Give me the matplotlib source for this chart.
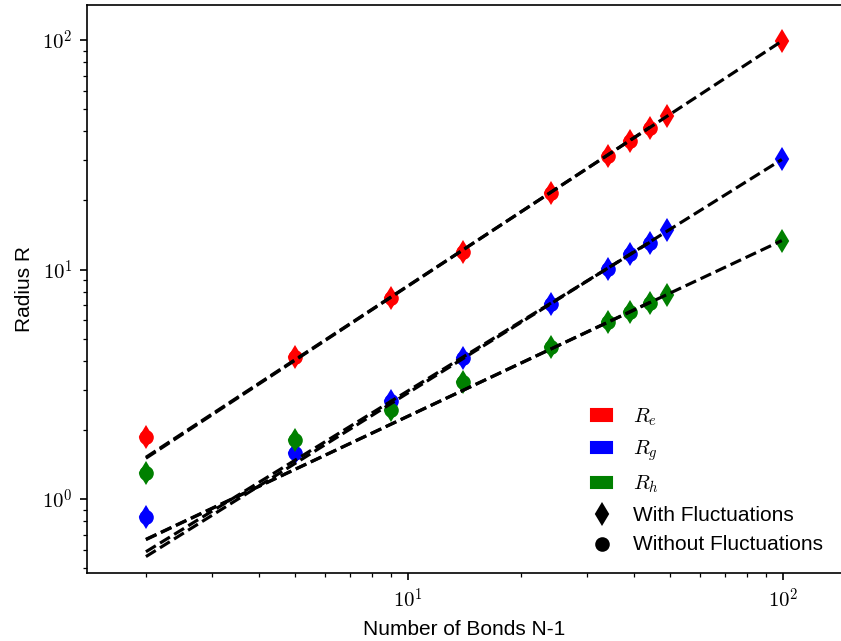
import matplotlib
matplotlib.use("Agg")
import matplotlib.pyplot as plt
import numpy as np
from matplotlib.patches import Patch
from matplotlib.lines import Line2D
from matplotlib.ticker import FuncFormatter

plt.rcParams['font.family'] = ['Liberation Sans', 'DejaVu Sans']
plt.rcParams['mathtext.fontset'] = 'cm'

# number of bonds in the chain (N-1)
bonds = [2, 5, 9, 14, 24, 34, 39, 44, 49, 99]
bonds_nofluct = [2, 5, 9, 14, 24, 34, 39, 44]

# radii with bond fluctuations
re_fluct = [1.87, 4.17, 7.49, 11.96, 21.5, 31.2, 36.3, 41.4, 46.6, 99.0]
rg_fluct = [0.832, 1.59, 2.68, 4.10, 7.07, 10.1, 11.65, 13.1, 14.9, 30.2]
rh_fluct = [1.30, 1.81, 2.44, 3.23, 4.59, 5.91, 6.55, 7.17, 7.77, 13.35]

# radii without fluctuations
re_nofluct = [1.87, 4.17, 7.49, 11.96, 21.5, 31.2, 36.3, 41.4]
rg_nofluct = [0.832, 1.59, 2.68, 4.10, 7.07, 10.1, 11.65, 13.1]
rh_nofluct = [1.30, 1.81, 2.44, 3.23, 4.59, 5.91, 6.55, 7.17]

# power law fits R = a * (N-1)^b
fit_a_fluct = [0.724, 0.2765, 0.392]
fit_b_fluct = [1.070, 1.021, 0.768]
fit_a_nofluct = [0.715, 0.2937, 0.390]
fit_b_nofluct = [1.074, 1.004, 0.770]

colors = ['red', 'blue', 'green']
labels = ['$R_e$', '$R_g$', '$R_h$']

fig = plt.figure(figsize=(841 / 150, 641 / 150), dpi=150)
ax = fig.add_axes([87 / 841, 68 / 641, 754.5 / 841, 568 / 641])

fluct = [re_fluct, rg_fluct, rh_fluct]
nofluct = [re_nofluct, rg_nofluct, rh_nofluct]
for i in range(3):
    ax.plot(bonds, fluct[i], 'd', color=colors[i], ms=6.5)
    ax.plot(bonds_nofluct, nofluct[i], 'o', color=colors[i], ms=6)

x_fl = np.array([bonds[0], bonds[-1]], dtype=float)
x_nf = np.array([bonds_nofluct[0], bonds_nofluct[-1]], dtype=float)
for i in range(3):
    ax.plot(x_fl, fit_a_fluct[i] * x_fl ** fit_b_fluct[i], 'k--', lw=1.5)
    ax.plot(x_nf, fit_a_nofluct[i] * x_nf ** fit_b_nofluct[i], 'k--', lw=1.5)

ax.set_xscale('log')
ax.set_yscale('log')
ax.set_xlim(10 ** 0.144, 10 ** 2.1547)
ax.set_ylim(10 ** -0.3224, 10 ** 2.1525)

decade = FuncFormatter(lambda v, pos: r'$10^{%d}$' % round(np.log10(v)))
ax.xaxis.set_major_formatter(decade)
ax.yaxis.set_major_formatter(decade)

ax.set_xlabel('Number of Bonds N-1')
ax.set_ylabel('Radius R')

handles = [Patch(color=colors[i], label=labels[i]) for i in range(3)]
handles.append(Line2D([], [], marker='d', color='k', ls='none', ms=6.5,
                      label='With Fluctuations'))
handles.append(Line2D([], [], marker='o', color='k', ls='none', ms=6,
                      label='Without Fluctuations'))
ax.legend(handles=handles, loc='lower right', frameon=False,
          handlelength=1.0, handleheight=0.5, handletextpad=1.0)

fig.savefig('out.png', dpi=150)
